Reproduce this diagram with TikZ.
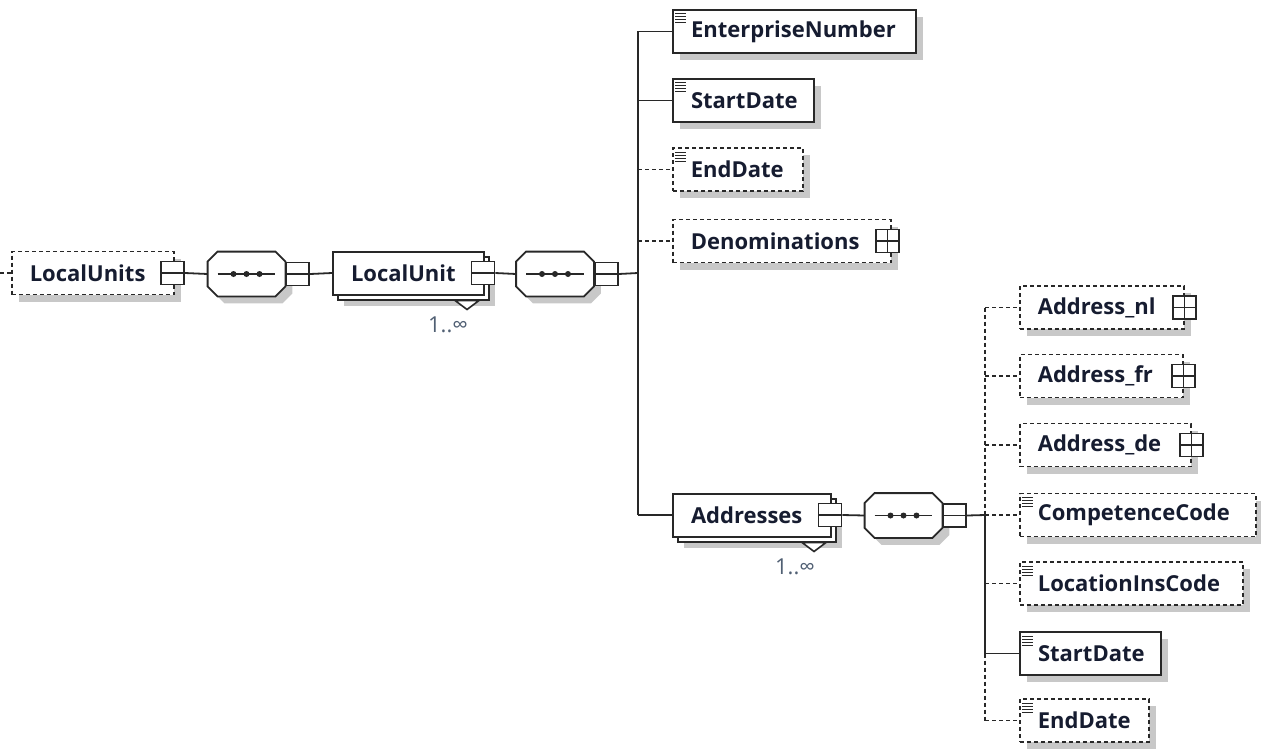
\documentclass[tikz,border=0pt]{standalone}
\usepackage{fontspec}
\setmainfont{Open Sans}
\usepackage{tikz}
\usetikzlibrary{shadows, positioning}
\definecolor{linec}{RGB}{40,40,40}
\definecolor{textc}{RGB}{22,28,48}
\definecolor{occc}{RGB}{80,95,115}
\definecolor{shadowc}{RGB}{200,200,200}
\tikzstyle{box} = [rectangle, draw=linec, line width=1pt, fill=white, minimum height=21.5pt, inner xsep=9pt, inner ysep=0pt, align=left, text=textc, font=\bfseries\fontsize{11}{13}\selectfont, anchor=west]
\tikzstyle{elem} = [box, drop shadow={shadow xshift=3.5pt, shadow yshift=-3.5pt, fill=shadowc, opacity=1, draw=none}]
\tikzstyle{multi} = [box, drop shadow={shadow xshift=5.5pt, shadow yshift=-5.5pt, fill=shadowc, opacity=1, draw=none}, copy shadow={shadow xshift=2.5pt, shadow yshift=-2.5pt, draw=linec, fill=white, line width=1pt}]
\tikzstyle{opt} = [line width=0.8pt, dash pattern=on 2pt off 1.5pt]
\tikzstyle{icon} = [path picture={
    \foreach \k in {1,...,4}
      \draw[solid, line width=0.5pt, draw=linec] ([xshift=1pt, yshift={-(0.5+1.5*\k)*1pt}]path picture bounding box.north west) -- ++(5.5pt,0pt);
  }]
\tikzstyle{btn} = [rectangle, draw=linec, line width=0.9pt, fill=white, minimum size=11.5pt, inner sep=0pt]
\tikzstyle{minus} = [btn, path picture={\draw[line width=0.6pt] (path picture bounding box.west) -- (path picture bounding box.east);}]
\tikzstyle{plus} = [btn, path picture={\draw[line width=0.6pt] (path picture bounding box.west) -- (path picture bounding box.east) (path picture bounding box.north) -- (path picture bounding box.south);}]
\tikzstyle{seq} = [rectangle, minimum width=38.5pt, minimum height=22pt, inner sep=0pt]
\tikzstyle{octo} = [draw=linec, line width=0.9pt, fill=white, drop shadow={shadow xshift=3.5pt, shadow yshift=-3.5pt, fill=shadowc, opacity=1, draw=none}]
\tikzstyle{occ} = [font=\fontsize{11}{13}\selectfont, text=occc, inner sep=0pt]
\tikzstyle{tri} = [draw=linec, line width=0.8pt, fill=white]
\tikzstyle{link} = [draw=linec, line width=0.9pt]
\tikzstyle{optlink} = [link, dash pattern=on 2pt off 1.5pt]

% sequence compositor drawn over a named node
\newcommand{\seqshape}[1]{%
  \draw [octo] ([xshift=5pt]#1.north west) -- ([xshift=-5pt]#1.north east) -- ([yshift=-5pt]#1.north east)
    -- ([yshift=5pt]#1.south east) -- ([xshift=-5pt]#1.south east) -- ([xshift=5pt]#1.south west)
    -- ([yshift=5pt]#1.south west) -- ([yshift=-5pt]#1.north west) -- cycle;
  \draw [link, line width=0.7pt] ([xshift=5pt]#1.west) -- ([xshift=-5pt]#1.east);
  \foreach \d in {-6.5pt,0pt,6.5pt}
    \fill [linec] ([xshift=\d]#1.center) circle (1.5pt);
}

\begin{document}
\begin{tikzpicture}[x=0.5pt, y=-0.5pt]
\useasboundingbox (0,0) rectangle (1261,749);

% root element and first sequence
\node (lus) [elem, opt, text width=63pt] at (11,273) {LocalUnits};
\node (lus-b) [minus] at ([xshift=-1pt]lus.east) {};
\node (seq1) [seq] at (246.5,274) {};
\seqshape{seq1}
\node (seq1-b) [minus, right=0pt of seq1] {};
\node (lu) [multi, text width=57.5pt] at (332,273) {LocalUnit};
\draw [tri] ([shift={(-30,5)}]lu.south east) -- ++(24,0) -- ++(-12,9) -- cycle;
\node (lu-b) [minus] at ([xshift=-1pt]lu.east) {};
\node (lu-occ) [occ] at (448,325) {1..∞};
\node (seq2) [seq] at (555,274) {};
\seqshape{seq2}
\node (seq2-b) [minus, right=0pt of seq2] {};
\coordinate (start) at (0,273);
\coordinate (j1) at (638,273);

% children of LocalUnit
\node (ent) [elem, icon, text width=103.5pt] at (672,31.5) {EnterpriseNumber};
\node (sd1) [elem, icon, text width=52.5pt] at (672,100.5) {StartDate};
\node (ed1) [elem, opt, icon, text width=47pt] at (672,169.5) {EndDate};
\node (den) [elem, opt, text width=91pt] at (672,241) {Denominations};
\node (den-b) [plus] at ([xshift=-2pt]den.east) {};
\node (addr) [multi, text width=61pt] at (672,515) {Addresses};
\draw [tri] ([shift={(-30,5)}]addr.south east) -- ++(24,0) -- ++(-12,9) -- cycle;
\node (addr-b) [minus] at ([xshift=-1pt]addr.east) {};
\node (addr-occ) [occ] at (795,567) {1..∞};
\node (seq3) [seq] at (903.5,515.5) {};
\seqshape{seq3}
\node (seq3-b) [minus, right=0pt of seq3] {};
\coordinate (j2) at (985,515);

% children of Addresses
\node (anl) [elem, opt, text width=64pt] at (1019,307.5) {Address\_nl};
\node (anl-b) [plus] at (anl.east) {};
\node (afr) [elem, opt, text width=63.5pt] at (1019,376) {Address\_fr};
\node (afr-b) [plus] at (afr.east) {};
\node (ade) [elem, opt, text width=67.5pt] at (1019,445) {Address\_de};
\node (ade-b) [plus] at (ade.east) {};
\node (cc) [elem, opt, icon, text width=100pt] at (1019,515) {CompetenceCode};
\node (lic) [elem, opt, icon, text width=93.5pt] at (1019,583.5) {LocationInsCode};
\node (sd2) [elem, icon, text width=52.5pt] at (1019,653.5) {StartDate};
\node (ed2) [elem, opt, icon, text width=46.5pt] at (1019,720.5) {EndDate};

% connectors
\draw [optlink] (start) -- (lus.west);
\draw [link] (lus-b.east) -- (seq1.west);
\draw [link] (seq1-b.east) -- (lu.west);
\draw [link] (lu-b.east) -- (seq2.west);
\draw [link] (seq2-b.east) -- (j1);
\draw [link] (j1 |- ent.west) -- (j1 |- addr.west);
\draw [link] (j1 |- ent.west) -- (ent.west);
\draw [link] (j1 |- sd1.west) -- (sd1.west);
\draw [optlink] (j1 |- ed1.west) -- (ed1.west);
\draw [optlink] (j1 |- den.west) -- (den.west);
\draw [link] (j1 |- addr.west) -- (addr.west);
\draw [link] (addr-b.east) -- (seq3.west);
\draw [link] (seq3-b.east) -- (j2);
\draw [optlink] (j2 |- anl.west) -- (j2);
\draw [link] (j2) -- (j2 |- sd2.west);
\draw [optlink] (j2 |- sd2.west) -- (j2 |- ed2.west);
\draw [optlink] (j2 |- anl.west) -- (anl.west);
\draw [optlink] (j2 |- afr.west) -- (afr.west);
\draw [optlink] (j2 |- ade.west) -- (ade.west);
\draw [optlink] (j2) -- (cc.west);
\draw [optlink] (j2 |- lic.west) -- (lic.west);
\draw [link] (j2 |- sd2.west) -- (sd2.west);
\draw [optlink] (j2 |- ed2.west) -- (ed2.west);
\end{tikzpicture}
\end{document}
